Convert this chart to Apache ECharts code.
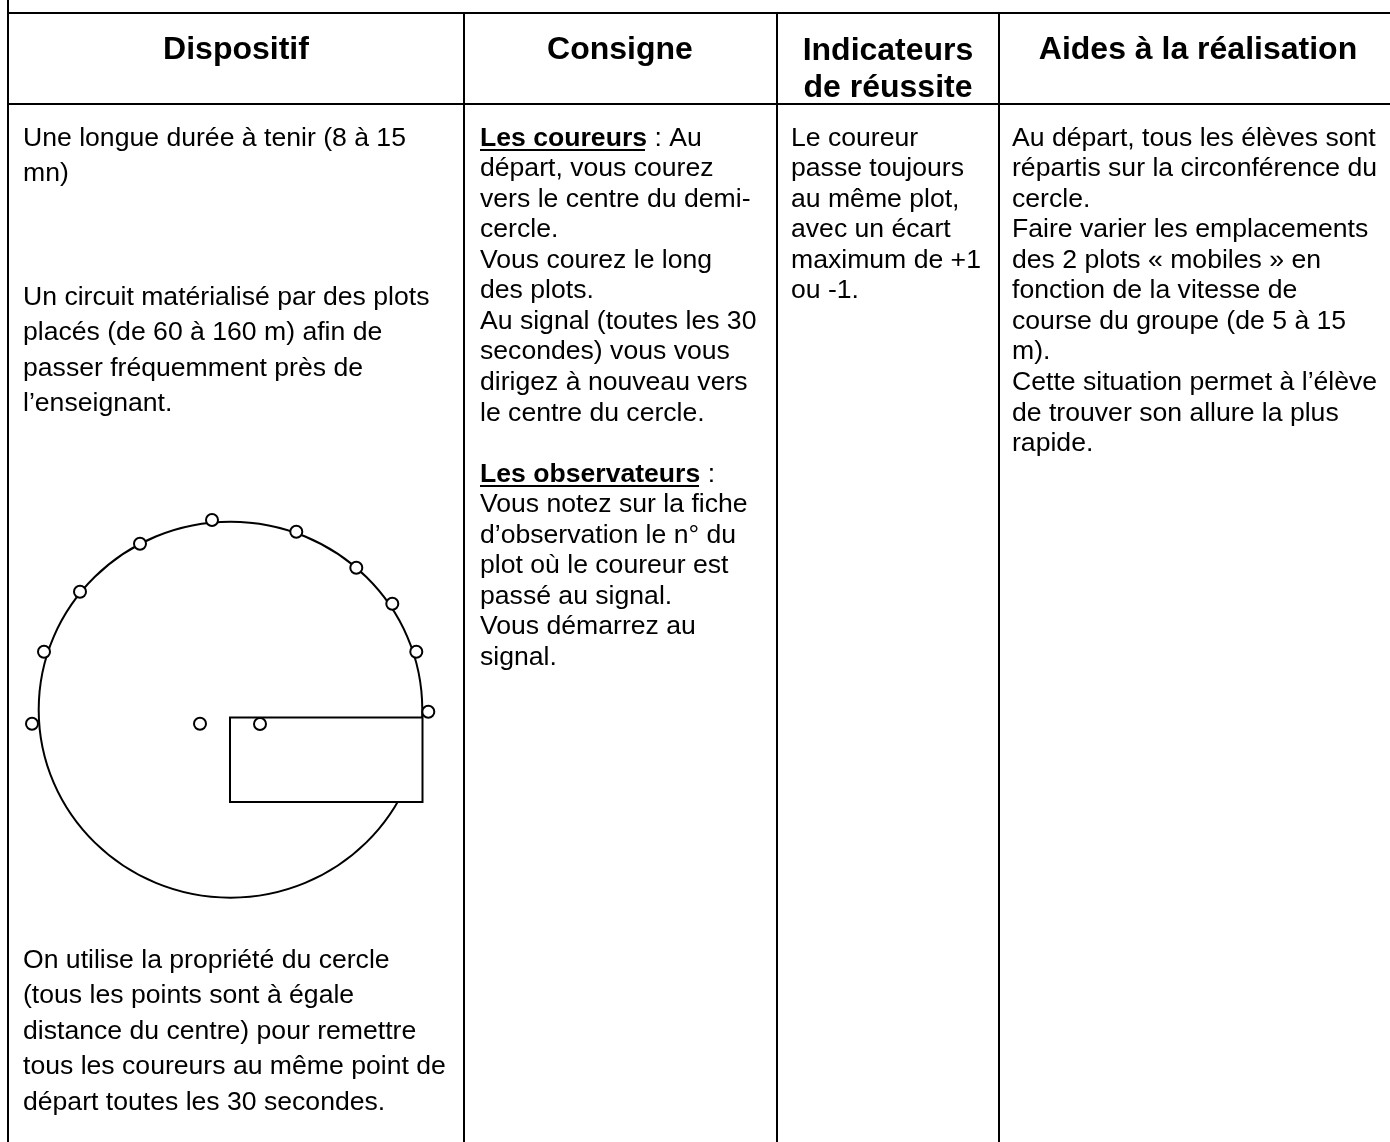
<!DOCTYPE html>
<html><head><meta charset="utf-8">
<style>html,body{margin:0;padding:0;background:#fff}#c{width:1390px;height:1142px}</style>
<script src="https://cdn.jsdelivr.net/npm/echarts@6/dist/echarts.min.js"></script>
</head><body><div id="c"></div>
<script>
// ---------- content ----------
const headers = ["Dispositif", "Consigne", "Indicateurs\nde réussite", "Aides à la réalisation"];
const col1a = ["Une longue durée à tenir (8 à 15", "mn)"];
const col1b = ["Un circuit matérialisé par des plots", "placés (de 60 à 160 m) afin de", "passer fréquemment près de", "l’enseignant."];
const col1c = ["On utilise la propriété du cercle", "(tous les points sont à égale", "distance du centre) pour remettre", "tous les coureurs au même point de", "départ toutes les 30 secondes."];
const col2 = ["{b|Les coureurs} : Au", "départ, vous courez", "vers le centre du demi-", "cercle.", "Vous courez le long", "des plots.", "Au signal (toutes les 30", "secondes) vous vous", "dirigez à nouveau vers", "le centre du cercle.", "", "{b|Les observateurs} :", "Vous notez sur la fiche", "d’observation le n° du", "plot où le coureur est", "passé au signal.", "Vous démarrez au", "signal."];
const col3 = ["Le coureur", "passe toujours", "au même plot,", "avec un écart", "maximum de +1", "ou -1."];
const col4 = ["Au départ, tous les élèves sont", "répartis sur la circonférence du", "cercle.", "Faire varier les emplacements", "des 2 plots « mobiles » en", "fonction de la vitesse de", "course du groupe (de 5 à 15", "m).", "Cette situation permet à l’élève", "de trouver son allure la plus", "rapide."];
// diagram, in axis units
const plots = [[212,520],[296.3,531.7],[356.3,567.7],[392.3,603.7],[416.3,651.7],[428.3,711.7],[260,724],[200,723.7],[32,723.7],[44,651.7],[80,591.7],[140,543.7]];
const track = [[230.5,709.7,191.8,188]];
const zone = [[230,717.5,422.5,802]];
// table rules, in axis units
const hRules = [[8,1390,13],[8,1390,104]];
const vRules = [[8,0,1142],[464,13,1142],[777,13,1142],[999,13,1142]];
const underlines = [[480,645,150],[480,699,486]];

// ---------- layout ----------
const FONT = '"Liberation Sans", Arial, sans-serif';
const BODY = 26.6, HEAD = 32, MID = -9.2;

function textSeries(lines, x, y0, pitch, opts){
  opts = opts || {};
  return {
    type:'custom', coordinateSystem:'cartesian2d', clip:false, silent:true, z:5,
    encode:{x:0,y:1},
    data: lines.map((t,i)=>[x, y0+i*pitch]),
    renderItem:(p,api)=>{
      const c = api.coord([api.value(0),api.value(1)]);
      return {type:'text', style:{
        text: lines[p.dataIndex], x:c[0], y:c[1]+MID,
        font:(opts.bold?'bold ':'')+(opts.size||BODY)+'px '+FONT,
        fill:'#000', align:opts.align||'left', verticalAlign:'middle',
        rich:{b:{font:'bold '+BODY+'px '+FONT, fill:'#000'}}
      }};
    }
  };
}
function ruleSeries(rows, toPts){
  return rows.map(r=>({type:'line', data:toPts(r), showSymbol:false, silent:true, clip:false, z:3,
    lineStyle:{color:'#000',width:2}, animation:false}));
}

const series = [
  {type:'custom', clip:false, silent:true, z:1, encode:{x:0,y:1}, data:track,
   renderItem:(p,api)=>{
     const c=api.coord([api.value(0),api.value(1)]), s=api.size([api.value(2),api.value(3)]);
     return {type:'ellipse', shape:{cx:c[0],cy:c[1],rx:s[0],ry:s[1]}, style:{fill:'#fff',stroke:'#000',lineWidth:2}};
   }},
  {type:'custom', clip:false, silent:true, z:2, encode:{x:0,y:1}, data:zone,
   renderItem:(p,api)=>{
     const a=api.coord([api.value(0),api.value(1)]), b=api.coord([api.value(2),api.value(3)]);
     return {type:'rect', shape:{x:a[0],y:a[1],width:b[0]-a[0],height:b[1]-a[1]}, style:{fill:'#fff',stroke:'#000',lineWidth:2}};
   }},
  {type:'scatter', data:plots, symbol:'circle', symbolSize:12, silent:true, clip:false, z:4,
   itemStyle:{color:'#fff',borderColor:'#000',borderWidth:2,opacity:1}},
  ...ruleSeries(hRules, r=>[[r[0],r[2]],[r[1],r[2]]]),
  ...ruleSeries(vRules, r=>[[r[0],r[1]],[r[0],r[2]]]),
  ...ruleSeries(underlines, r=>[[r[0],r[2]],[r[1],r[2]]]),
  textSeries([headers[0]],236,59.5,36,{bold:true,size:HEAD,align:'center'}),
  textSeries([headers[1]],620,59.5,36,{bold:true,size:HEAD,align:'center'}),
  textSeries(headers[2].split("\n"),888,60,37,{bold:true,size:HEAD,align:'center'}),
  textSeries([headers[3]],1198,59.5,36,{bold:true,size:HEAD,align:'center'}),
  textSeries(col1a,23,147.5,35.6),
  textSeries(col1b,23,306.5,35.6),
  textSeries(col1c,23,969.5,35.5),
  textSeries(col2,480,147.5,30.55),
  textSeries(col3,791,147.5,30.55),
  textSeries(col4,1012,147.5,30.55)
];

const chart = echarts.init(document.getElementById('c'), null, {renderer:'canvas'});
chart.setOption({
  animation:false, backgroundColor:'#fff',
  grid:{left:0,right:0,top:0,bottom:0},
  xAxis:{type:'value',min:0,max:1390,show:false},
  yAxis:{type:'value',min:0,max:1142,inverse:true,show:false},
  tooltip:{show:false},
  series
});
</script></body></html>
